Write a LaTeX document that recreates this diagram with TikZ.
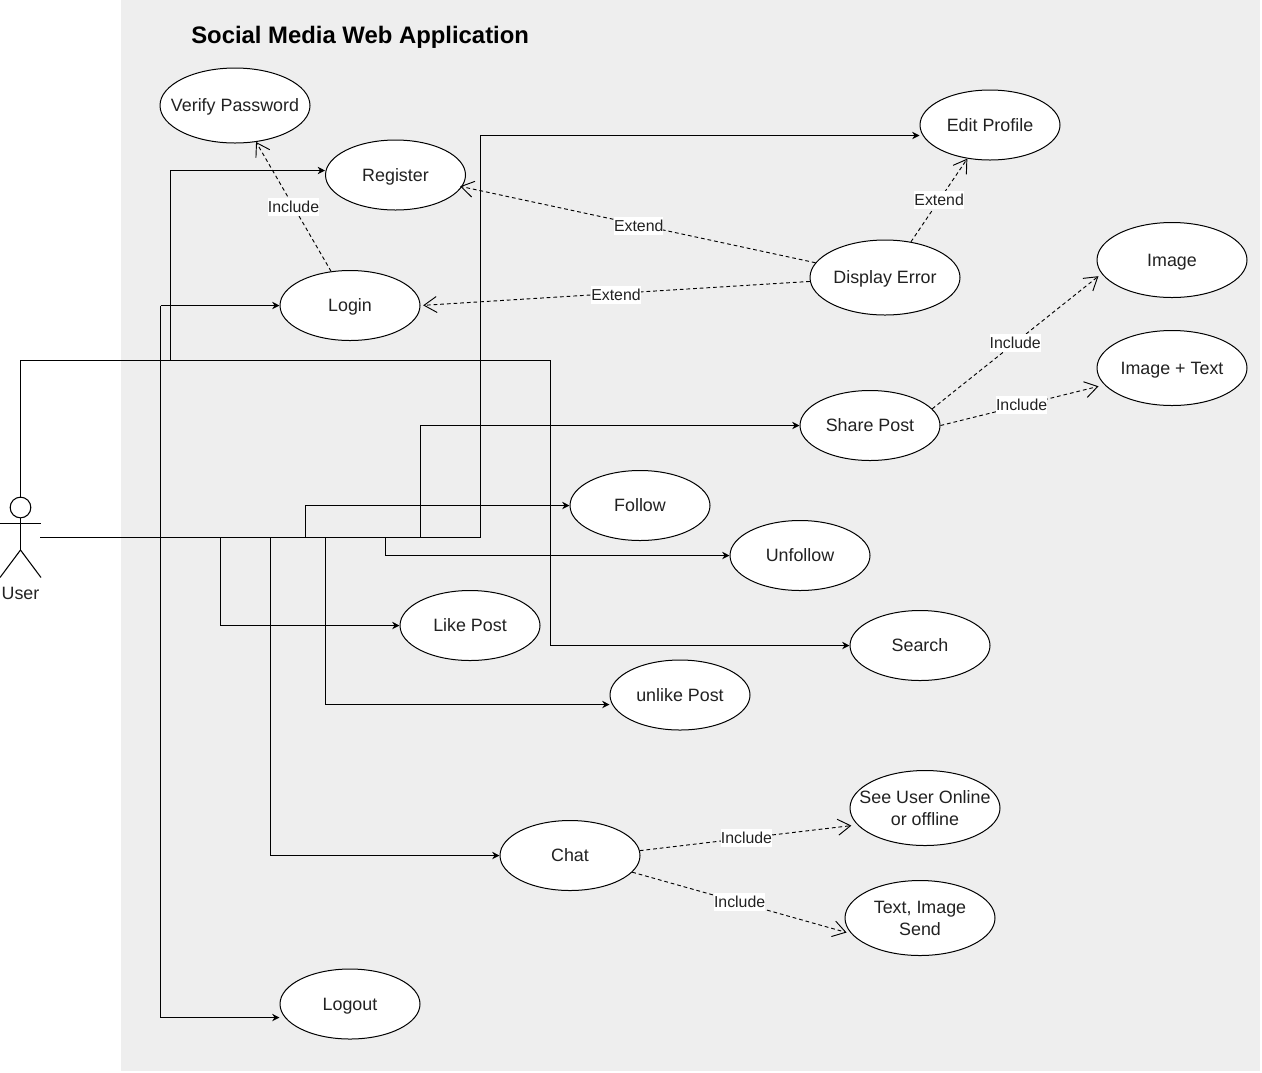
\documentclass[tikz,border=0pt]{standalone}
\usepackage{fontspec}
\setmainfont{Liberation Sans}
\usetikzlibrary{arrows.meta,shapes.geometric}
\definecolor{panelgray}{HTML}{EEEEEE}
\definecolor{inkdark}{HTML}{222222}
\tikzset{
  ucbase/.style={draw=black,fill=white,ellipse,inner sep=0pt,inner xsep=-14pt,minimum width=105pt,minimum height=52.5pt,align=center,line width=0.75pt,text=inkdark,font=\fontsize{13.4}{16.5}\selectfont},
  uc/.style={ucbase,text height=9.7pt,text depth=0pt},
  ucw/.style={uc,minimum width=112.5pt,minimum height=56.25pt},
  uctwo/.style={ucbase,minimum width=112.5pt,minimum height=56.25pt},
  conn/.style={draw=black,line width=0.8pt,-{Stealth[length=5.5pt,width=5.5pt]}},
  plainconn/.style={draw=black,line width=0.8pt},
  dep/.style={draw=black,line width=0.7pt,dash pattern=on 2.8pt off 2.2pt,-{Straight Barb[length=9.5pt,width=12pt,line width=0.7pt]}},
  deplabel/.style={fill=white,inner sep=0pt,text height=10.8pt,text depth=2.7pt,text=inkdark,font=\fontsize{11.9}{14}\selectfont},
  limb/.style={draw=black,line width=0.8pt}
}
\begin{document}
\begin{tikzpicture}[x=0.75pt,y=-0.75pt]
\useasboundingbox (0,0) rectangle (1262,1072);
\fill[panelgray] (120.5,0) rectangle (1260,1070.5);
\node[anchor=west,inner sep=0pt,font=\fontsize{17.9}{20}\selectfont\bfseries] (title) at (191,37) {Social Media Web Application};

% use cases
\node[ucw] (verify) at (235,105.5) {Verify Password};
\node[uc] (register) at (395.5,175) {Register};
\node[uc] (login) at (350,305.5) {Login};
\node[uc] (edit) at (990,125) {Edit Profile};
\node[ucw] (error) at (885,277.5) {Display Error};
\node[ucw] (image) at (1172,260) {Image};
\node[ucw] (imagetext) at (1172,368) {Image + Text};
\node[uc] (share) at (870,425.5) {Share Post};
\node[uc] (follow) at (640,505.5) {Follow};
\node[uc] (unfollow) at (800,555.5) {Unfollow};
\node[uc] (like) at (470,625.5) {Like Post};
\node[uc] (search) at (920,645.5) {Search};
\node[uc] (unlike) at (680,695) {unlike Post};
\node[uc] (chat) at (570,855.5) {Chat};
\node[uctwo] (online) at (925,808) {See User Online\\or offline};
\node[uctwo] (textimage) at (920,918) {Text, Image\\Send};
\node[uc] (logout) at (350,1004) {Logout};

% actor
\node[draw=black,fill=white,circle,line width=0.8pt,minimum size=15.5pt,inner sep=0pt] (head) at (20.5,507.5) {};
\coordinate (hip) at (20.5,550);
\coordinate (hand) at (40,537.5);
\draw[limb] (head.south) -- (hip);
\draw[limb] (0,523.5) -- (41,523.5);
\draw[limb] (0,577.5) -- (hip) -- (41,577.5);
\node[text=inkdark,inner sep=0pt,font=\fontsize{13.4}{16.5}\selectfont] (user) at (20.5,593.5) {User};

% junctions
\coordinate (j160) at (160.5,537.5);
\coordinate (j220) at (220.5,537.5);
\coordinate (j270) at (270.5,537.5);
\coordinate (j305) at (305.5,537.5);
\coordinate (j325) at (325.5,537.5);
\coordinate (j385) at (385.5,537.5);
\coordinate (j420) at (420.5,537.5);
\coordinate (j480) at (480.5,537.5);
\coordinate (top170) at (170.5,360.5);
\coordinate (top550) at (550.5,360.5);

% solid connectors
\draw[plainconn] (hand) -- (j480);
\draw[conn] (j480) |- ([yshift=-7.875pt]edit.west);
\draw[plainconn] (160.5,305.5) -- (160.5,1017.5);
\draw[conn] (160.5,305.5) -- (login.west);
\draw[conn] (160.5,1017.5) -- ([yshift=-10.125pt]logout.west);
\draw[conn] (head.north) |- (top550) |- (search.west);
\draw[conn] (top170) |- ([yshift=3.375pt]register.west);
\draw[conn] (j420) |- (share.west);
\draw[conn] (j305) |- (follow.west);
\draw[conn] (j385) |- (unfollow.west);
\draw[conn] (j220) |- (like.west);
\draw[conn] (j325) |- ([yshift=-7.125pt]unlike.west);
\draw[conn] (j270) |- (chat.west);

% dependencies
\draw[dep] (login.119.7) -- node[deplabel] (l1) {Include} (verify.-60.8);
\draw[dep,shorten >=-1.5pt] (error.168) -- node[deplabel,yshift=-1pt] (l2) {Extend} (register.-10.7);
\draw[dep,shorten >=2pt] (error.183.4) -- node[deplabel,yshift=-1pt,xshift=0.6pt] (l3) {Extend} (login.-0.8);
\draw[dep] (error.54) -- node[deplabel] (l4) {Extend} (edit.236.3);
\draw[dep,shorten >=3pt] (share.15.6) -- node[deplabel,pos=0.49] (l5) {Include} (image.191.6);
\draw[dep,shorten >=4.5pt] (share.0) -- node[deplabel,pos=0.495] (l6) {Include} (imagetext.194.8);
\draw[dep,shorten >=4.5pt] (chat.4.9) -- node[deplabel,pos=0.49] (l7) {Include} (online.194);
\draw[dep,shorten >=3.75pt] (chat.-15.1) -- node[deplabel,pos=0.49] (l8) {Include} (textimage.193.3);
\end{tikzpicture}
\end{document}
